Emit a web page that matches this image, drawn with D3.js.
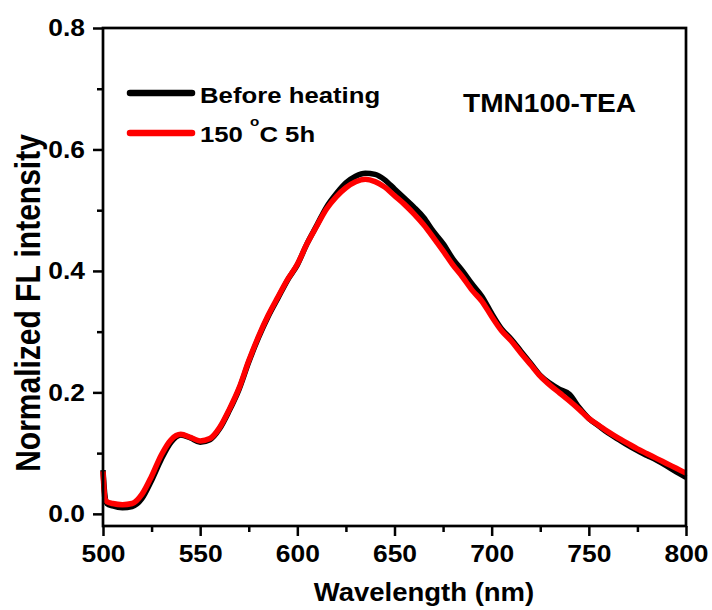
<!DOCTYPE html>
<html>
<head>
<meta charset="utf-8">
<script src="https://cdn.jsdelivr.net/npm/d3@7"></script>
<style>
  body { margin: 0; background: #fff; }
  text { font-family: "Liberation Sans", Arial, sans-serif; font-weight: bold; fill: #000; }
</style>
</head>
<body>
<svg width="712" height="610"></svg>
<script>
(function(){

	// wavelength (nm)
	var wavelength = [500, 501, 502, 505, 510, 515, 520, 525, 530, 535, 540, 545, 550, 555, 560, 565, 570, 575, 580, 585,
		590, 595, 600, 605, 610, 615, 620, 625, 630, 635, 640, 645, 650, 655, 660, 665, 670, 675, 680, 685,
		690, 695, 700, 705, 710, 715, 720, 725, 730, 735, 740, 745, 750, 755, 760, 765, 770, 775, 780, 785,
		790, 795, 800];

	var beforeHeating = [0.072, 0.030, 0.017, 0.013, 0.010, 0.012, 0.025, 0.055, 0.090, 0.118, 0.130, 0.125, 0.118, 0.122, 0.140, 0.170, 0.205, 0.250, 0.290, 0.325,
		0.355, 0.385, 0.410, 0.445, 0.475, 0.505, 0.527, 0.545, 0.556, 0.561, 0.559, 0.550, 0.535, 0.520, 0.505, 0.488, 0.465, 0.445, 0.420, 0.400,
		0.378, 0.358, 0.330, 0.305, 0.288, 0.268, 0.248, 0.228, 0.215, 0.205, 0.197, 0.175, 0.157, 0.145, 0.133, 0.123, 0.113, 0.104, 0.096, 0.088,
		0.079, 0.069, 0.060];

	var heated150 = [0.070, 0.025, 0.020, 0.017, 0.015, 0.017, 0.032, 0.062, 0.097, 0.122, 0.131, 0.126, 0.120, 0.124, 0.142, 0.172, 0.207, 0.252, 0.292, 0.327,
		0.357, 0.386, 0.411, 0.445, 0.474, 0.502, 0.522, 0.537, 0.547, 0.551, 0.547, 0.538, 0.524, 0.510, 0.494, 0.476, 0.455, 0.433, 0.410, 0.390,
		0.368, 0.350, 0.325, 0.302, 0.285, 0.265, 0.246, 0.227, 0.212, 0.199, 0.186, 0.172, 0.157, 0.146, 0.135, 0.125, 0.116, 0.107, 0.099, 0.091,
		0.083, 0.075, 0.067];

	var xTicks = [500, 550, 600, 650, 700, 750, 800];
	var xMinor = [525, 575, 625, 675, 725, 775];
	var yTicks = [0.0, 0.2, 0.4, 0.6, 0.8];
	var yMinor = [0.1, 0.3, 0.5, 0.7];

	var svg = d3.select("svg"),
		margin = {top: 28, right: 26, bottom: 84, left: 103},
		width = +svg.attr("width") - margin.left - margin.right,
		height = +svg.attr("height") - margin.top - margin.bottom;

	// the original lettering is a bit wider than Arial
	var STRETCH = 1.1;

	var g = svg.append("g")
		.attr("transform", "translate(" + margin.left + "," + margin.top + ")");

	var x = d3.scaleLinear().domain([500, 800]).range([0, width]);
	var y = d3.scaleLinear().domain([-0.02, 0.8]).range([height, 0]);

	var line = d3.line()
		.x(function(d){ return x(d[0]); })
		.y(function(d){ return y(d[1]); })
		.curve(d3.curveMonotoneX);

	var series = [
		{name: "Before heating", color: "#000", values: beforeHeating},
		{name: "150 °C 5h", color: "#ff0000", values: heated150}
	];

	g.selectAll(".curve")
		.data(series)
		.enter().append("path")
			.attr("class", "curve")
			.attr("fill", "none")
			.attr("stroke", function(d){ return d.color; })
			.attr("stroke-width", 5.5)
			.attr("stroke-linejoin", "round")
			.attr("d", function(d){
				return line(wavelength.map(function(w, i){ return [w, d.values[i]]; }));
			});

	// axes: major ticks with labels, minor ticks without
	g.append("g")
		.attr("transform", "translate(0," + height + ")")
		.call(d3.axisBottom(x).tickValues(xTicks).tickSize(10).tickPadding(9).tickFormat(d3.format("d")));
	g.append("g")
		.attr("transform", "translate(0," + height + ")")
		.call(d3.axisBottom(x).tickValues(xMinor).tickSize(6).tickFormat(""));

	var yAxis = g.append("g")
		.call(d3.axisLeft(y).tickValues(yTicks).tickSize(10).tickPadding(8).tickFormat(d3.format(".1f")));
	g.append("g")
		.call(d3.axisLeft(y).tickValues(yMinor).tickSize(6).tickFormat(""));

	g.selectAll(".domain").remove();
	g.selectAll(".tick line").attr("stroke", "#000").attr("stroke-width", 2.5);
	g.selectAll(".tick text").style("font-size", "24px").attr("fill", "#000");
	yAxis.selectAll(".tick text").attr("x", -18 / STRETCH);
	g.selectAll(".tick text").attr("transform", "scale(" + STRETCH + ",1)");

	// frame
	g.append("rect")
		.attr("width", width)
		.attr("height", height)
		.attr("fill", "none")
		.attr("stroke", "#000")
		.attr("stroke-width", 2.7);

	// axis titles
	svg.append("text")
		.attr("transform", "translate(424,601) scale(" + STRETCH + ",1)")
		.attr("text-anchor", "middle")
		.style("font-size", "25px")
		.text("Wavelength (nm)");

	svg.append("text")
		.attr("transform", "translate(40,303) scale(1.15,1) rotate(-90)")
		.attr("text-anchor", "middle")
		.style("font-size", "30px")
		.text("Normalized FL intensity");

	// legend
	var legend = svg.append("g").attr("transform", "translate(130,93)");
	legend.selectAll("line")
		.data(series)
		.enter().append("line")
			.attr("x1", 0).attr("x2", 62)
			.attr("y1", function(d, i){ return i * 40; })
			.attr("y2", function(d, i){ return i * 40; })
			.attr("stroke", function(d){ return d.color; })
			.attr("stroke-width", 6.5)
			.attr("stroke-linecap", "round");

	legend.append("text")
		.attr("transform", "translate(70,10) scale(1.17,1)")
		.style("font-size", "22px")
		.text("Before heating");

	var t2 = legend.append("text")
		.attr("transform", "translate(70,49) scale(1.17,1)")
		.style("font-size", "22px");
	t2.append("tspan").text("150 ");
	t2.append("tspan").attr("dy", -16).style("font-size", "13px").text("o");
	t2.append("tspan").attr("dy", 16).text("C 5h");

	svg.append("text")
		.attr("transform", "translate(463,112) scale(1.08,1)")
		.style("font-size", "26px")
		.text("TMN100-TEA");

})();
</script>
</body>
</html>
